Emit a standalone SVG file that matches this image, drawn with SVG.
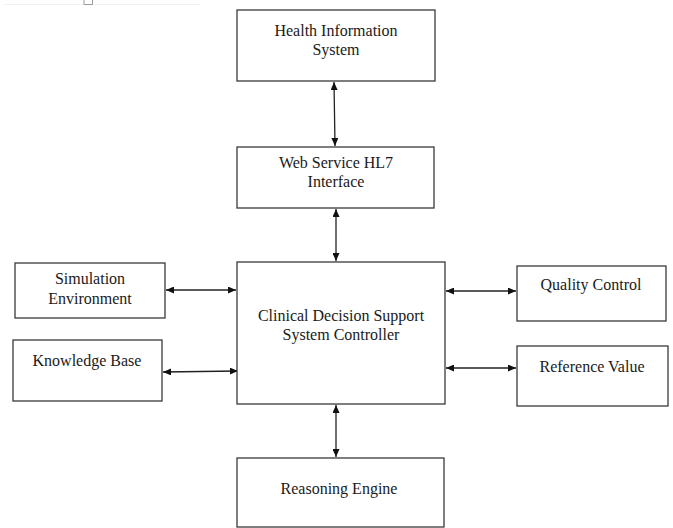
<svg xmlns="http://www.w3.org/2000/svg" width="673" height="528" viewBox="0 0 673 528">
  <style>
    .box { fill: #ffffff; stroke: #3a3a3a; stroke-width: 1.3; }
    .lbl { font-family: "Liberation Serif", "Times New Roman", serif; font-size: 16px; fill: #1a1a1a; text-anchor: middle; }
    .link { stroke: #222222; stroke-width: 1.3; fill: none; marker-start: url(#arrow); marker-end: url(#arrow); }
  </style>
  <defs>
    <marker id="arrow" viewBox="0 0 8 7" refX="8" refY="3.5" markerWidth="8" markerHeight="7" markerUnits="userSpaceOnUse" orient="auto-start-reverse">
      <path d="M0,0 L8,3.5 L0,7 z" fill="#111111"/>
    </marker>
  </defs>

  <rect width="673" height="528" fill="#ffffff"/>
  <!-- page edge and anchor mark -->
  <line x1="5" y1="4.5" x2="200" y2="4.5" stroke="#f0f0f0" stroke-width="1"/>
  <path d="M84,0 V4.5 H92.5 V0" fill="none" stroke="#9a9a9a" stroke-width="1"/>

  <g id="connectors">
    <line class="link" x1="334" y1="82" x2="335" y2="146"/>
    <line class="link" x1="336" y1="209" x2="336" y2="261"/>
    <line class="link" x1="336" y1="405" x2="336" y2="457"/>
    <line class="link" x1="166" y1="290" x2="236" y2="290"/>
    <line class="link" x1="163" y1="372" x2="238" y2="371"/>
    <line class="link" x1="446" y1="291" x2="516" y2="291"/>
    <line class="link" x1="446" y1="368" x2="516" y2="368"/>
  </g>

  <g id="health-information-system">
    <rect class="box" x="237" y="10" width="198" height="71"/>
    <text class="lbl" x="336" y="36">Health Information</text>
    <text class="lbl" x="336" y="55">System</text>
  </g>

  <g id="web-service-hl7">
    <rect class="box" x="237" y="147" width="197" height="61"/>
    <text class="lbl" x="336" y="168">Web Service HL7</text>
    <text class="lbl" x="336" y="187">Interface</text>
  </g>

  <g id="cdss-controller">
    <rect class="box" x="237" y="262" width="208" height="142"/>
    <text class="lbl" x="341" y="321">Clinical Decision Support</text>
    <text class="lbl" x="341" y="340">System Controller</text>
  </g>

  <g id="simulation-environment">
    <rect class="box" x="15" y="263" width="150" height="55"/>
    <text class="lbl" x="90" y="284">Simulation</text>
    <text class="lbl" x="90" y="304">Environment</text>
  </g>

  <g id="knowledge-base">
    <rect class="box" x="13" y="340" width="149" height="61"/>
    <text class="lbl" x="87" y="366">Knowledge Base</text>
  </g>

  <g id="quality-control">
    <rect class="box" x="517" y="266" width="149" height="55"/>
    <text class="lbl" x="591" y="290">Quality Control</text>
  </g>

  <g id="reference-value">
    <rect class="box" x="517" y="346" width="151" height="60"/>
    <text class="lbl" x="592" y="372">Reference Value</text>
  </g>

  <g id="reasoning-engine">
    <rect class="box" x="237" y="458" width="207" height="69"/>
    <text class="lbl" x="339" y="494">Reasoning Engine</text>
  </g>
</svg>
